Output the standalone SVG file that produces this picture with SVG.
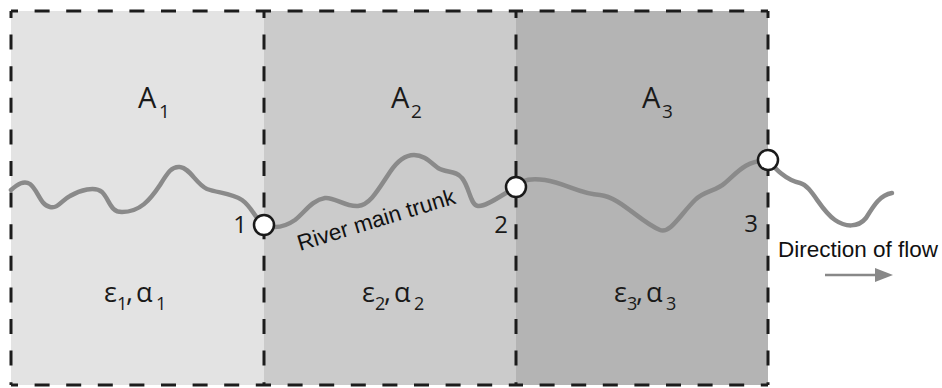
<svg xmlns="http://www.w3.org/2000/svg" width="942" height="388" viewBox="0 0 942 388">
<style>
.dash{stroke:#1c1c1c;stroke-width:3;fill:none;stroke-dasharray:15 16.6;stroke-dashoffset:8}
.river{fill:none;stroke:#8a8a8a;stroke-width:4.5;stroke-linecap:round;stroke-linejoin:round}
.node{fill:#fff;stroke:#1a1a1a;stroke-width:2.5}
.lab{font-family:"Open Sans","Noto Sans",sans-serif;fill:#1a1a1a}
.big{font-size:29px}
.sub{font-size:19px}
.gr{font-size:27px}
.gsub{font-size:18px}
.num{font-size:24px}
.ar{font-family:"Liberation Sans",Arial,sans-serif;fill:#111;font-size:22.5px}
</style>
<rect x="11" y="11" width="253" height="374" fill="#e3e3e3"/>
<rect x="264" y="11" width="252" height="374" fill="#cbcbcb"/>
<rect x="516" y="11" width="252" height="374" fill="#b4b4b4"/>
<g id="borders">
<path class="dash" d="M11,11H264"/>
<path class="dash" d="M264,11H516"/>
<path class="dash" d="M516,11H768"/>
<path class="dash" d="M11,385H264"/>
<path class="dash" d="M264,385H516"/>
<path class="dash" d="M516,385H768"/>
<path class="dash" d="M11,11V385"/>
<path class="dash" d="M264,11V385"/>
<path class="dash" d="M516,11V385"/>
<path class="dash" d="M768,11V385"/>
</g>
<g id="area1" class="lab">
<text class="big" x="138" y="108">A</text><text class="sub" x="159" y="118">1</text>
<text class="gr" x="104" y="302">ε</text><text class="gsub" x="117" y="310">1</text><text class="gr" x="126" y="301">,</text>
<text class="gr" x="136" y="302">α</text><text class="gsub" x="156" y="310">1</text>
</g>
<g id="area2" class="lab">
<text class="big" x="391" y="108">A</text><text class="sub" x="411" y="118">2</text>
<text class="gr" x="362" y="302">ε</text><text class="gsub" x="375" y="310">2</text><text class="gr" x="384" y="301">,</text>
<text class="gr" x="394" y="302">α</text><text class="gsub" x="414" y="310">2</text>
</g>
<g id="area3" class="lab">
<text class="big" x="642" y="108">A</text><text class="sub" x="662" y="118">3</text>
<text class="gr" x="614" y="302">ε</text><text class="gsub" x="627" y="310">3</text><text class="gr" x="636" y="301">,</text>
<text class="gr" x="646" y="302">α</text><text class="gsub" x="666" y="310">3</text>
</g>
<g id="connectors">
<path class="river" d="M11,190 C18,184 24,180 30,184 C38,190 40,205 50,207 C58,209 62,200 70,196 C80,190 95,186 102,192 C110,200 110,212 122,212 C140,212 150,200 160,185 C168,172 172,166 180,167 C190,168 196,184 207,189 C218,193 232,193 242,200 C252,207 256,220 264,225"/>
<path class="river" d="M264,225 C275,229 285,227 295,220 C305,212 312,200 325,198 C335,197 345,207 358,206 C370,205 378,190 390,172 C398,160 406,155 414,155 C424,155 430,162 438,168 C446,173 456,170 462,178 C470,188 470,205 478,206 C486,207 500,196 516,187"/>
<path class="river" d="M516,187 C520,180 530,178 545,180 C565,183 580,194 600,195 C620,197 640,222 660,230 C670,234 680,215 695,200 C705,190 715,192 725,183 C735,175 745,160 768,160"/>
<path class="river" d="M768,160 C775,168 785,180 800,183 C812,186 820,210 835,220 C845,227 858,228 866,218 C874,205 880,195 892,193"/>
<line x1="825" y1="275" x2="878" y2="275" stroke="#888" stroke-width="2.5"/>
<polygon points="875,268 893,275 875,282" fill="#888"/>
</g>
<g id="node1"><circle class="node" cx="264" cy="225" r="10"/><text class="lab num" x="247" y="233" text-anchor="end">1</text></g>
<g id="node2"><circle class="node" cx="516" cy="187" r="10"/><text class="lab num" x="508" y="233" text-anchor="end">2</text></g>
<g id="node3"><circle class="node" cx="768" cy="160" r="10"/><text class="lab num" x="758" y="232" text-anchor="end">3</text></g>
<g id="labels">
<text class="ar" x="300" y="251" transform="rotate(-17 300 251)">River main trunk</text>
<text class="ar" x="778" y="257">Direction of flow</text>
</g>
</svg>
